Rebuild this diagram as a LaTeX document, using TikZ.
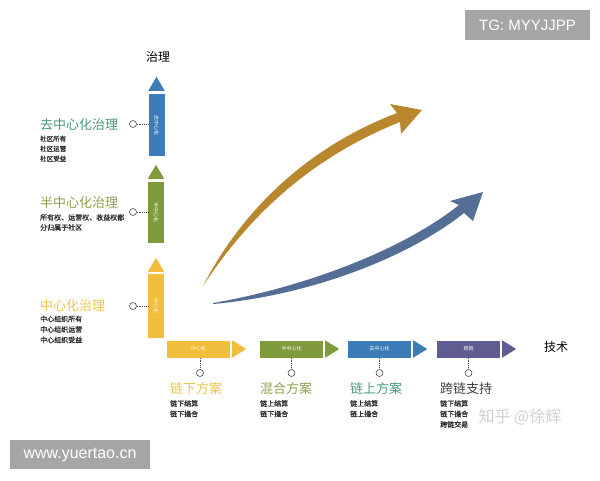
\documentclass[tikz,border=0pt]{standalone}
\usepackage{fontspec}
\usepackage{tikz}
\setmainfont{Noto Sans CJK SC}
\newfontfamily\subfont[FakeBold=1.3]{Noto Sans CJK SC}
\newfontfamily\wmfont{Liberation Sans}
\usetikzlibrary{positioning}
\definecolor{cyellow}{RGB}{240, 190, 60}
\definecolor{cgreen}{RGB}{128, 155, 60}
\definecolor{cblue}{RGB}{60, 125, 185}
\definecolor{cpurple}{RGB}{95, 92, 145}
\definecolor{tyellow}{RGB}{238, 196, 78}
\definecolor{tgreen}{RGB}{138, 162, 78}
\definecolor{tteal}{RGB}{72, 155, 118}
\definecolor{cgold}{RGB}{185, 135, 45}
\definecolor{cslate}{RGB}{85, 110, 150}
\definecolor{wmgray}{RGB}{166, 166, 166}
\tikzset{vbar/.style = {rectangle, inner sep = 0, minimum width = 16pt}}
\tikzset{hbar/.style = {rectangle, inner sep = 0, minimum width = 63pt, minimum height = 17pt,
                        text = white, font = \fontsize{5}{6}\selectfont}}
\tikzset{bartext/.style = {inner sep = 0, text = white, font = \fontsize{5}{6}\selectfont}}
\tikzset{title/.style = {inner sep = 0, font = \fontsize{13}{15}\selectfont}}
\tikzset{sub/.style = {inner sep = 0, align = left, text = black!80}}
\tikzset{axislabel/.style = {inner sep = 0, font = \fontsize{12}{14}\selectfont}}
\tikzset{dot/.style = {circle, draw = black!70, fill = white, line width = 0.6pt,
                       inner sep = 0, minimum size = 7pt}}
\tikzset{dotline/.style = {densely dotted, line width = 0.8pt, black!70}}
\tikzset{wmbox/.style = {fill = wmgray, text = white, inner sep = 0}}

\begin{document}
\begin{tikzpicture}[x=1pt, y=-1pt]
      \fill [white] (0, 0) rectangle (600, 480);
      \useasboundingbox (0, 0) rectangle (600, 480);

      \node [axislabel] (gov) at (158, 57) {治理};
      \node [axislabel] (tech) at (556, 347) {技术};

      \node [vbar, fill=cblue, minimum height=62pt] (v3) at (156.5, 125) {};
      \node [bartext, rotate=-90] (v3text) at (v3) {去中心化};
      \fill [cblue] ([yshift=3pt]v3.north west) -- ([yshift=3pt]v3.north east)
                    -- ([yshift=17pt]v3.north) -- cycle;

      \node [vbar, fill=cgreen, minimum height=61pt] (v2) at (156, 212.5) {};
      \node [bartext, rotate=-90] (v2text) at (v2) {半中心化};
      \fill [cgreen] ([yshift=3pt]v2.north west) -- ([yshift=3pt]v2.north east)
                     -- ([yshift=17pt]v2.north) -- cycle;

      \node [vbar, fill=cyellow, minimum height=64pt] (v1) at (156, 306) {};
      \node [bartext, rotate=-90] (v1text) at (v1) {中心化};
      \fill [cyellow] ([yshift=2pt]v1.north west) -- ([yshift=2pt]v1.north east)
                      -- ([yshift=16pt]v1.north) -- cycle;

      \node [title, text=tteal, anchor=west] (g3) at (40, 125) {去中心化治理};
      \node [sub, anchor=north west, font=\subfont\fontsize{6.5}{10}\selectfont] (g3sub) at (40, 135.5)
            {社区所有\\社区运营\\社区受益};
      \node [title, text=tgreen, anchor=west] (g2) at (40, 203) {半中心化治理};
      \node [sub, anchor=north west, font=\subfont\fontsize{7}{10}\selectfont] (g2sub) at (40, 214)
            {所有权、运营权、收益权都\\分归属于社区};
      \node [title, text=tyellow, anchor=west] (g1) at (40, 306) {中心化治理};
      \node [sub, anchor=north west, font=\subfont\fontsize{7}{10.5}\selectfont] (g1sub) at (40, 315.5)
            {中心组织所有\\中心组织运营\\中心组织受益};

      \node [dot] (c3) at (133, 124) {};
      \node [dot] (c2) at (133, 212) {};
      \node [dot] (c1) at (133, 306) {};
      \draw [dotline] (c3) -- (c3 -| v3.west);
      \draw [dotline] (c2) -- (c2 -| v2.west);
      \draw [dotline] (c1) -- (c1 -| v1.west);

      \node [hbar, fill=cyellow] (h1) at (198.5, 349) {中心化};
      \fill [cyellow] ([xshift=2pt]h1.north east) -- ([xshift=2pt]h1.south east)
                      -- ([xshift=16pt]h1.east) -- cycle;
      \node [hbar, fill=cgreen] (h2) at (291.5, 349) {半中心化};
      \fill [cgreen] ([xshift=2pt]h2.north east) -- ([xshift=2pt]h2.south east)
                     -- ([xshift=16pt]h2.east) -- cycle;
      \node [hbar, fill=cblue] (h3) at (379.5, 349) {去中心化};
      \fill [cblue] ([xshift=2pt]h3.north east) -- ([xshift=2pt]h3.south east)
                    -- ([xshift=16pt]h3.east) -- cycle;
      \node [hbar, fill=cpurple] (h4) at (468.5, 349) {跨链};
      \fill [cpurple] ([xshift=2pt]h4.north east) -- ([xshift=2pt]h4.south east)
                      -- ([xshift=16pt]h4.east) -- cycle;

      \node [dot] (d1) at (200, 373) {};
      \node [dot] (d2) at (291.5, 373) {};
      \node [dot] (d3) at (379.5, 373) {};
      \node [dot] (d4) at (468.5, 373) {};
      \draw [dotline] (h1.south -| d1) -- (d1);
      \draw [dotline] (h2) -- (d2);
      \draw [dotline] (h3) -- (d3);
      \draw [dotline] (h4) -- (d4);

      \node [title, text=tyellow, anchor=west] (s1) at (170, 388.5) {链下方案};
      \node [sub, anchor=north west, font=\subfont\fontsize{7}{10.5}\selectfont] (s1sub) at (170, 400)
            {链下结算\\链下撮合};
      \node [title, text=tgreen, anchor=west] (s2) at (260, 388.5) {混合方案};
      \node [sub, anchor=north west, font=\subfont\fontsize{7}{10.5}\selectfont] (s2sub) at (260, 400)
            {链上结算\\链下撮合};
      \node [title, text=tteal, anchor=west] (s3) at (350, 388.5) {链上方案};
      \node [sub, anchor=north west, font=\subfont\fontsize{7}{10.5}\selectfont] (s3sub) at (350, 400)
            {链上结算\\链上撮合};
      \node [title, text=black!75, anchor=west] (s4) at (440, 388.5) {跨链支持};
      \node [sub, anchor=north west, font=\subfont\fontsize{7}{10.5}\selectfont] (s4sub) at (440, 400)
            {链下结算\\链下撮合\\跨链交易};

      \fill [cgold] (203, 286) .. controls (238, 218) and (300, 150) .. (397, 113)
                    -- (390, 104) -- (422, 110) -- (401, 134) -- (400, 122)
                    .. controls (305, 160) and (245, 222) .. (203, 286) -- cycle;
      \fill [cslate] (213, 303) .. controls (300, 288) and (400, 252) .. (459, 205)
                     -- (450, 201) -- (483, 192) -- (473, 221) -- (464, 213)
                     .. controls (405, 260) and (305, 296) .. (213, 304) -- cycle;

      \node [inner sep=0, text=black!18, font=\fontsize{16}{18}\selectfont] (zh) at (520, 417)
            {知乎 @徐辉};
      \node [wmbox, minimum width=125pt, minimum height=30pt,
             font=\wmfont\fontsize{15}{17}\selectfont] (tg) at (527.5, 25) {TG: MYYJJPP};
      \node [wmbox, minimum width=140pt, minimum height=29pt,
             font=\wmfont\fontsize{16}{18}\selectfont] (site) at (80, 454.5) {www.yuertao.cn};
    \end{tikzpicture}
\end{document}
